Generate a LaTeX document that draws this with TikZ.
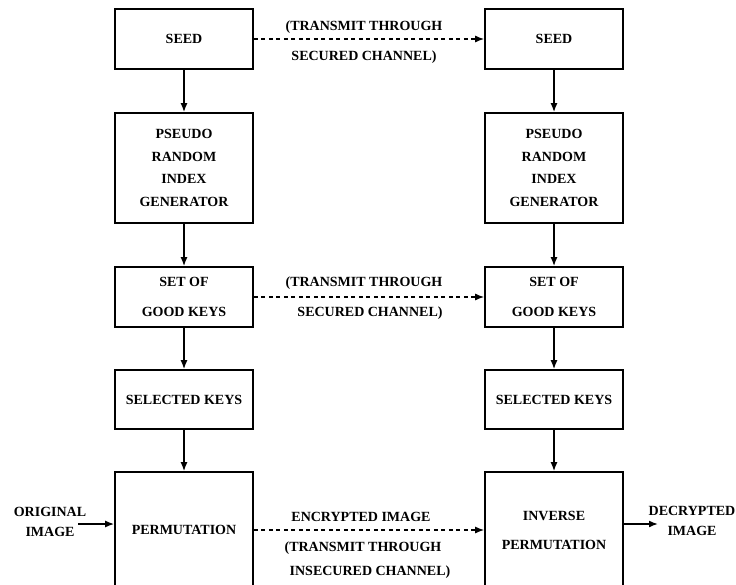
\documentclass[tikz,border=0pt]{standalone}
\usepackage{fontspec}
\setmainfont{Liberation Serif}
\usetikzlibrary{arrows.meta}
\begin{document}
\begin{tikzpicture}[x=1pt,y=-1pt,
  box/.style={draw, line width=1.6pt, minimum width=138pt, inner sep=0pt, align=center, font=\bfseries\fontsize{14}{22.5}\selectfont},
  lbl/.style={inner sep=0pt, align=center, font=\bfseries\fontsize{14}{20}\selectfont},
  arr/.style={line width=1.6pt, -{Latex[length=9pt,width=7pt]}},
  darr/.style={line width=1.4pt, dash pattern=on 4pt off 3.5pt, -{Latex[length=9pt,width=7pt]}}]
\useasboundingbox (0,0) rectangle (736,584);
\clip (0,0) rectangle (736,584);
% left column
\node[box, minimum height=60pt] (seedL) at (184,39) {SEED};
\node[box, minimum height=110pt] (prigL) at (184,168) {PSEUDO\\RANDOM\\INDEX\\GENERATOR};
\node[box, minimum height=60pt, font=\bfseries\fontsize{14}{30}\selectfont] (goodL) at (184,297) {SET OF\\GOOD KEYS};
\node[box, minimum height=59pt] (selL) at (184,399.5) {SELECTED KEYS};
\node[box, minimum height=116pt] (permL) at (184,530) {PERMUTATION};
% right column
\node[box, minimum height=60pt] (seedR) at (554,39) {SEED};
\node[box, minimum height=110pt] (prigR) at (554,168) {PSEUDO\\RANDOM\\INDEX\\GENERATOR};
\node[box, minimum height=60pt, font=\bfseries\fontsize{14}{30}\selectfont] (goodR) at (554,297) {SET OF\\GOOD KEYS};
\node[box, minimum height=59pt] (selR) at (554,399.5) {SELECTED KEYS};
\node[box, minimum height=116pt, font=\bfseries\fontsize{14}{29}\selectfont] (permR) at (554,530) {INVERSE\\PERMUTATION};
% vertical arrows
\draw[arr] (seedL) -- (prigL);
\draw[arr] (prigL) -- (goodL);
\draw[arr] (goodL) -- (selL);
\draw[arr] (selL) -- (permL);
\draw[arr] (seedR) -- (prigR);
\draw[arr] (prigR) -- (goodR);
\draw[arr] (goodR) -- (selR);
\draw[arr] (selR) -- (permR);
% dashed transmissions
\draw[darr] (seedL.east) -- (seedR.west);
\draw[darr] (goodL.east) -- (goodR.west);
\draw[darr] (permL.east) -- (permR.west);
\node[lbl] (t1a) at (364,27) {(TRANSMIT THROUGH};
\node[lbl] (t1b) at (364,57) {SECURED CHANNEL)};
\node[lbl] (t2a) at (364,283) {(TRANSMIT THROUGH};
\node[lbl] (t2b) at (370,313) {SECURED CHANNEL)};
\node[lbl] (t3a) at (361,517) {ENCRYPTED IMAGE};
\node[lbl] (t3b) at (363,548) {(TRANSMIT THROUGH};
\node[lbl] (t3c) at (370,572) {INSECURED CHANNEL)};
% input / output
\node[lbl] (orig) at (50,522) {ORIGINAL\\IMAGE};
\coordinate (origend) at (78,524);
\draw[arr] (origend) -- (permL.west |- origend);
\node[lbl] (decr) at (692,521) {DECRYPTED\\IMAGE};
\coordinate (decrend) at (658,524);
\draw[arr] (permR.east |- decrend) -- (decrend);
\end{tikzpicture}
\end{document}
